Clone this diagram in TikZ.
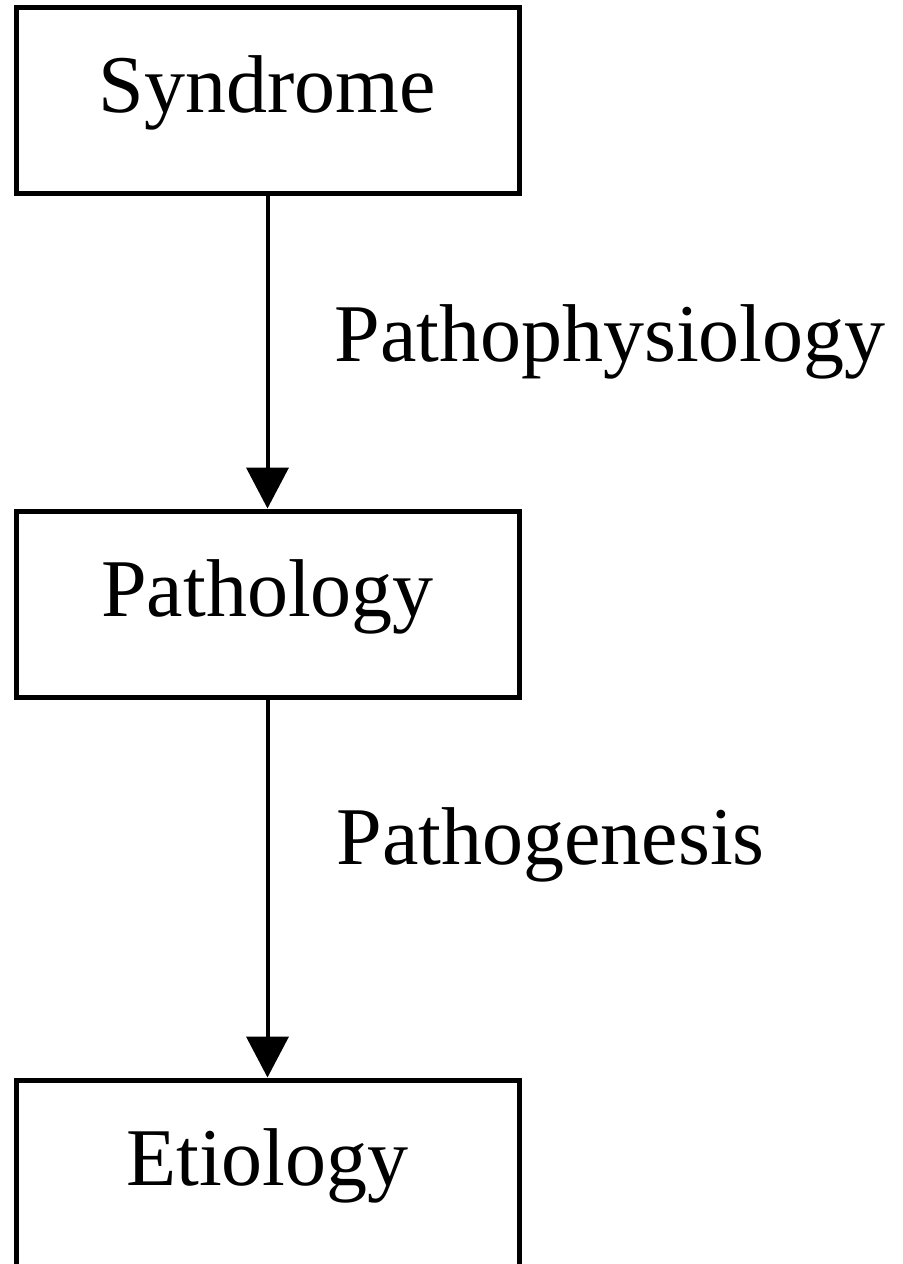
\documentclass[tikz,border=0pt]{standalone}
\usepackage{fontspec}
\setmainfont{Liberation Serif}
\usetikzlibrary{arrows.meta,positioning}

\begin{document}
\begin{tikzpicture}[->,>={Triangle[width=21pt,length=20.5pt]},x=0.5pt,y=-0.5pt,
        line width=2pt,
        main node/.style={rectangle,draw,line width=2.5pt,minimum width=251.5pt,minimum height=93pt,font=\fontsize{41}{49}\selectfont,text height=22pt,text depth=10pt},
        edge label/.style={font=\fontsize{41}{49}\selectfont,anchor=base west,inner sep=0pt}]

      \clip (0,0) rectangle (903,1264);
      \node[main node] (0) at (267.5,100.5) {Syndrome};
      \node[main node] (1) [below of=0, node distance=251.75pt] {Pathology};
      \node[main node] (2) [below of=1, node distance=284.5pt] {Etiology};

      \path
      (0) edge node[edge label, xshift=32.5pt, yshift=-4.5pt] {Pathophysiology} (1)
      (1) edge node[edge label, xshift=33.5pt, yshift=12pt] {Pathogenesis} (2);
\end{tikzpicture}
\end{document}
